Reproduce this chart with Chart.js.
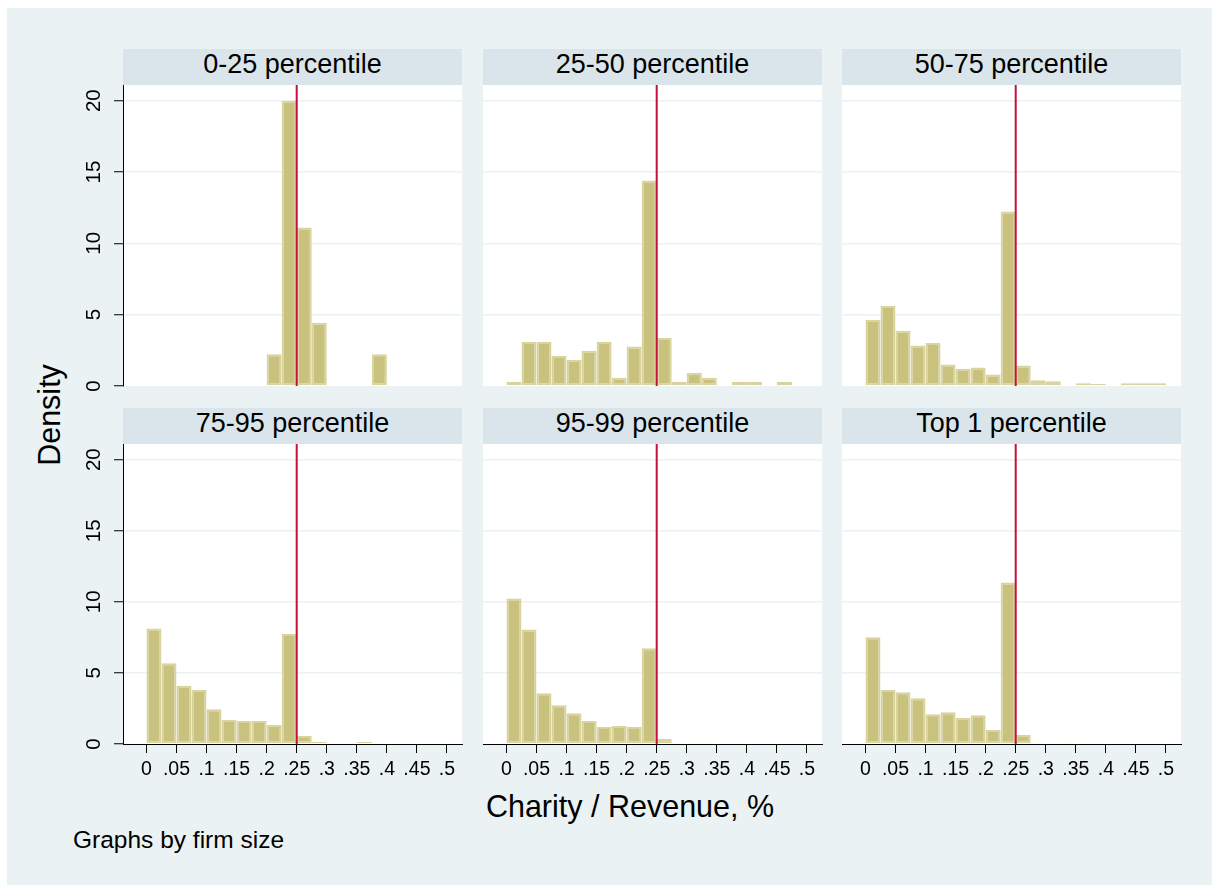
<!DOCTYPE html>
<html>
<head>
<meta charset="utf-8">
<title>Charity / Revenue by firm size</title>
<script src="https://cdn.jsdelivr.net/npm/chart.js@4.4.1/dist/chart.umd.min.js"></script>
<style>
  html, body { margin: 0; padding: 0; background: #fff; }
  body {
    position: relative; width: 1218px; height: 886px; overflow: hidden;
    font-family: "Liberation Sans", Arial, sans-serif; color: #000;
  }
  #frame { position: absolute; left: 7px; top: 8px; width: 1205px; height: 877px; background: #EAF2F3; }
  .strip {
    position: absolute; width: 339px; height: 36px; line-height: 30px;
    background: #D9E5EA; font-size: 27px; text-align: center; white-space: nowrap;
  }
  canvas.panel { position: absolute; }
  .label { position: absolute; white-space: nowrap; line-height: 1; }
  #ytitle { left: 49px; top: 415px; font-size: 30.5px; transform: translate(-50%, -50%) rotate(-90deg); }
  #xtitle { left: 630px; top: 806px; font-size: 30.5px; transform: translate(-50%, -50%); }
  #note { left: 73px; top: 840px; font-size: 24.5px; transform: translateY(-50%); }
</style>
</head>
<body>
<div id="frame"></div>
<div class="label" id="ytitle">Density</div>
<div class="label" id="xtitle">Charity / Revenue, %</div>
<div class="label" id="note">Graphs by firm size</div>

<script>
// --- data ---
const BIN_WIDTH = 0.025;
const binStarts = [0, .025, .05, .075, .1, .125, .15, .175, .2, .225,
                   .25, .275, .3, .325, .35, .375, .4, .425, .45, .475];

const panelTitles = ['0-25 percentile', '25-50 percentile', '50-75 percentile',
                     '75-95 percentile', '95-99 percentile', 'Top 1 percentile'];

const density0to25  = [0, 0, 0, 0, 0, 0, 0, 0, 2.22, 20, 11.11, 4.44, 0, 0, 0, 2.22, 0, 0, 0, 0];
const density25to50 = [0.30, 3.09, 3.09, 2.12, 1.84, 2.47, 3.09, 0.58, 2.77, 14.4,
                       3.37, 0.30, 0.93, 0.58, 0, 0.30, 0.30, 0, 0.30, 0];
const density50to75 = [4.65, 5.63, 3.88, 2.84, 3.02, 1.51, 1.21, 1.30, 0.81, 12.23,
                       1.44, 0.40, 0.33, 0, 0.19, 0.14, 0, 0.19, 0.19, 0.19];
const density75to95 = [8.13, 5.68, 4.09, 3.81, 2.45, 1.68, 1.61, 1.61, 1.36, 7.73,
                       0.56, 0.16, 0.07, 0.07, 0.16, 0.07, 0.07, 0.07, 0.07, 0];
const density95to99 = [10.23, 8.06, 3.57, 2.73, 2.17, 1.61, 1.19, 1.26, 1.19, 6.73,
                       0.35, 0, 0.09, 0.09, 0, 0, 0, 0, 0, 0];
const densityTop1   = [7.50, 3.79, 3.64, 3.22, 2.10, 2.24, 1.82, 2.03, 0.98, 11.36,
                       0.63, 0, 0, 0.09, 0, 0, 0, 0, 0, 0];

const xTickValues = [0, .05, .1, .15, .2, .25, .3, .35, .4, .45, .5];
const xTickLabels = ['0', '.05', '.1', '.15', '.2', '.25', '.3', '.35', '.4', '.45', '.5'];
const yTickValues = [0, 5, 10, 15, 20];
const yTickLabels = ['0', '5', '10', '15', '20'];
const refLineAt = 0.25;

const panelSeries = [density0to25, density25to50, density50to75,
                     density75to95, density95to99, densityTop1];

// --- layout / style ---
const COL_LEFT = [123, 483, 842];
const ROW_TOP = [85, 444];
const PLOT_W = 339;
const PLOT_H = [301, 300];
const STRIP_H = 36;
const PAD_L = 70, PAD_T = 20, PAD_R = 12, PAD_B = 45;
const Y_AXIS_W = 63, X_AXIS_H = 40;
const X_MIN = -0.039, X_MAX = 0.525, Y_MAX = 21.1;

const BAR_FILL = '#C9C27E';
const BAR_EDGE = '#D9D39E';
const GRID = '#EAF2F3';
const LINE_RED = '#C8103C';
const FONT = '"Liberation Sans", Arial, sans-serif';

// white plot region
const plotBackground = {
    id: 'plotBackground',
    beforeDraw(chart) {
        const { ctx, chartArea: a } = chart;
        ctx.save();
        ctx.fillStyle = '#fff';
        ctx.fillRect(a.left, a.top, a.right - a.left, a.bottom - a.top);
        ctx.restore();
    }
};

// vertical reference line at .25
const refLine = {
    id: 'refLine',
    afterDatasetsDraw(chart) {
        const { ctx, chartArea: a } = chart;
        const x = chart.scales.x.getPixelForValue(refLineAt);
        ctx.save();
        ctx.strokeStyle = LINE_RED;
        ctx.lineWidth = 2;
        ctx.beginPath();
        ctx.moveTo(x, a.top);
        ctx.lineTo(x, a.bottom);
        ctx.stroke();
        ctx.restore();
    }
};

function makePanel(idx) {
    const col = idx % 3;
    const row = Math.floor(idx / 3);
    const hasY = col === 0;
    const hasX = row === 1;

    // strip title
    const strip = document.createElement('div');
    strip.className = 'strip';
    strip.style.left = COL_LEFT[col] + 'px';
    strip.style.top = (ROW_TOP[row] - STRIP_H) + 'px';
    strip.textContent = panelTitles[idx];
    document.body.appendChild(strip);

    const canvas = document.createElement('canvas');
    canvas.className = 'panel';
    const w = PAD_L + PLOT_W + PAD_R;
    const h = PAD_T + PLOT_H[row] + PAD_B;
    canvas.width = w;
    canvas.height = h;
    canvas.style.width = w + 'px';
    canvas.style.height = h + 'px';
    canvas.style.left = (COL_LEFT[col] - PAD_L) + 'px';
    canvas.style.top = (ROW_TOP[row] - PAD_T) + 'px';
    document.body.appendChild(canvas);

    const series = panelSeries[idx];

    new Chart(canvas, {
        type: 'bar',
        data: {
            datasets: [{
                data: binStarts.map((b, i) => ({ x: b + BIN_WIDTH / 2, y: series[i] })),
                backgroundColor: BAR_FILL,
                borderColor: BAR_EDGE,
                borderWidth: 2,
                borderSkipped: false,
                inflateAmount: 0,
                barPercentage: 1,
                categoryPercentage: 1
            }]
        },
        options: {
            responsive: false,
            animation: false,
            events: [],
            layout: {
                padding: {
                    left: PAD_L - (hasY ? Y_AXIS_W : 0),
                    top: PAD_T,
                    right: PAD_R,
                    bottom: PAD_B - (hasX ? X_AXIS_H : 0)
                }
            },
            plugins: {
                legend: { display: false },
                tooltip: { enabled: false }
            },
            scales: {
                x: {
                    type: 'linear',
                    min: X_MIN,
                    max: X_MAX,
                    offset: false,
                    display: hasX,
                    grid: { drawOnChartArea: false, offset: false, tickLength: 9, tickColor: '#000', tickWidth: 1 },
                    border: { display: true, color: '#000', width: 1 },
                    ticks: {
                        color: '#000',
                        font: { family: FONT, size: 19.5 },
                        padding: 5,
                        autoSkip: false,
                        maxRotation: 0,
                        callback: (v, i) => xTickLabels[i]
                    },
                    afterBuildTicks: s => { s.ticks = xTickValues.map(v => ({ value: v })); },
                    afterFit: s => {
                        s.height = hasX ? X_AXIS_H : 0;
                        s.paddingLeft = 0;
                        s.paddingRight = 0;
                    }
                },
                y: {
                    min: 0,
                    max: Y_MAX,
                    grid: {
                        color: c => (c.tick && c.tick.value === 0) ? 'rgba(0,0,0,0)' : GRID,
                        lineWidth: 1.5,
                        drawTicks: hasY,
                        tickLength: 9,
                        tickColor: '#000',
                        tickWidth: 1
                    },
                    border: { display: hasY, color: '#000', width: 1 },
                    ticks: {
                        display: hasY,
                        color: '#000',
                        font: { family: FONT, size: 20.5 },
                        padding: 8,
                        autoSkip: false,
                        minRotation: 90,
                        maxRotation: 90,
                        crossAlign: 'center',
                        callback: (v, i) => yTickLabels[i]
                    },
                    afterBuildTicks: s => { s.ticks = yTickValues.map(v => ({ value: v })); },
                    afterFit: s => {
                        s.width = hasY ? Y_AXIS_W : 0;
                        s.paddingTop = 0;
                        s.paddingBottom = 0;
                    }
                }
            }
        },
        plugins: [plotBackground, refLine]
    });
}

document.addEventListener('DOMContentLoaded', () => {
    panelTitles.forEach((t, i) => makePanel(i));
});
</script>
</body>
</html>
